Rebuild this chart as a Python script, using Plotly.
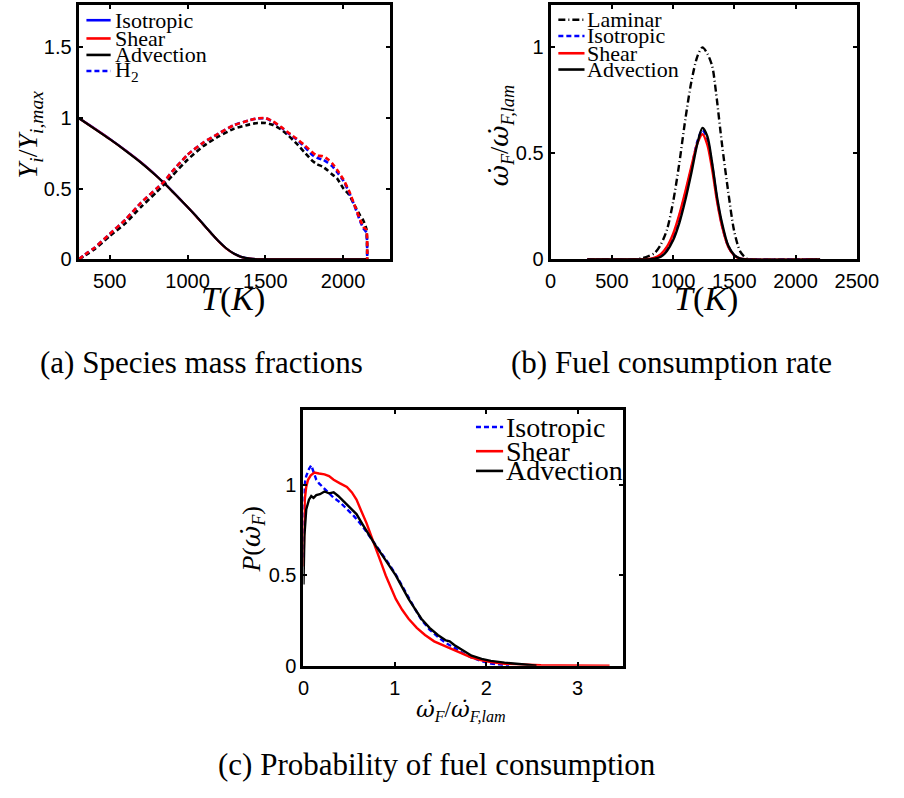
import plotly.graph_objects as go

W, H = 904, 798

# ---------------- (a) species mass fractions vs temperature ----------------
T_fuel = [300, 400, 500, 600, 700, 800, 850, 900, 950, 1000, 1050, 1100, 1150,
          1200, 1250, 1300, 1350, 1400, 1450, 1500, 1800, 2160]
fuel_iso = [1.0, 0.928, 0.853, 0.773, 0.688, 0.592, 0.54, 0.485, 0.428, 0.371, 0.312,
            0.25, 0.188, 0.128, 0.077, 0.04, 0.016, 0.005, 0.001, 0.0, 0.0, 0.0]
fuel_shear = [1.0, 0.926, 0.851, 0.771, 0.686, 0.59, 0.538, 0.483, 0.427, 0.37, 0.311,
              0.249, 0.187, 0.127, 0.076, 0.039, 0.015, 0.005, 0.001, 0.0, 0.0, 0.0]
fuel_adv = [1.0, 0.925, 0.85, 0.77, 0.685, 0.59, 0.538, 0.483, 0.427, 0.37, 0.312,
            0.25, 0.188, 0.128, 0.077, 0.04, 0.016, 0.005, 0.001, 0.0, 0.0, 0.0]

T_h2 = [300, 360, 400, 500, 600, 700, 800, 850, 900, 1000, 1100, 1200, 1300, 1400,
        1450, 1500, 1550, 1600, 1650, 1700, 1750, 1800, 1830, 1870, 1900, 1930, 1960,
        2000, 2040, 2080, 2110, 2130, 2150, 2155]
h2_shear = [0.0, 0.05, 0.08, 0.18, 0.28, 0.40, 0.50, 0.55, 0.62, 0.74, 0.825, 0.89, 0.95,
            0.985, 0.998, 1.0, 0.975, 0.937, 0.895, 0.855, 0.81, 0.76, 0.735, 0.73, 0.71,
            0.68, 0.635, 0.57, 0.48, 0.365, 0.28, 0.23, 0.21, 0.0]
h2_iso = [0.0, 0.05, 0.08, 0.18, 0.28, 0.40, 0.50, 0.55, 0.62, 0.74, 0.825, 0.89, 0.95,
          0.985, 0.997, 0.998, 0.973, 0.935, 0.89, 0.85, 0.80, 0.74, 0.72, 0.705, 0.685,
          0.66, 0.62, 0.56, 0.47, 0.36, 0.27, 0.22, 0.19, 0.0]
h2_adv = [0.0, 0.04, 0.07, 0.165, 0.255, 0.37, 0.475, 0.53, 0.59, 0.705, 0.80, 0.87, 0.925,
          0.955, 0.965, 0.965, 0.95, 0.92, 0.875, 0.82, 0.76, 0.70, 0.675, 0.655, 0.63,
          0.60, 0.575, 0.505, 0.455, 0.37, 0.31, 0.275, 0.215, 0.0]

# ---------------- (b) fuel consumption rate vs temperature ----------------
T_lam = [300, 600, 700, 750, 800, 850, 900, 950, 1000, 1050, 1100, 1150, 1200, 1240,
         1280, 1320, 1350, 1400, 1450, 1500, 1550, 1600, 1650, 2200]
w_lam = [0.0, 0.0, 0.002, 0.006, 0.015, 0.03, 0.07, 0.14, 0.27, 0.45, 0.66, 0.84, 0.96,
         1.0, 0.97, 0.91, 0.79, 0.54, 0.32, 0.13, 0.035, 0.005, 0.0, 0.0]
T_turb = [300, 700, 800, 850, 900, 950, 1000, 1050, 1100, 1150, 1200, 1240, 1280, 1320,
          1360, 1400, 1450, 1500, 1550, 1600, 2200]
w_iso = [0.0, 0.0, 0.001, 0.006, 0.02, 0.055, 0.11, 0.20, 0.31, 0.43, 0.56, 0.61, 0.565,
         0.44, 0.28, 0.16, 0.062, 0.019, 0.003, 0.0, 0.0]
w_shear = [0.0, 0.0, 0.002, 0.008, 0.025, 0.06, 0.12, 0.21, 0.32, 0.44, 0.55, 0.59, 0.54,
           0.42, 0.27, 0.155, 0.06, 0.018, 0.003, 0.0, 0.0]
w_adv = [0.0, 0.0, 0.0, 0.003, 0.012, 0.04, 0.09, 0.17, 0.28, 0.41, 0.55, 0.62, 0.58,
         0.45, 0.29, 0.17, 0.065, 0.02, 0.004, 0.0, 0.0]

# ---------------- (c) PDF of normalised fuel consumption ----------------
x_shear = [0, 0.005, 0.014, 0.03, 0.05, 0.08, 0.12, 0.17, 0.23, 0.28, 0.33, 0.40, 0.475,
           0.53, 0.58, 0.63, 0.69, 0.74, 0.795, 0.85, 0.90, 0.95, 1.01, 1.08, 1.15, 1.24,
           1.33, 1.43, 1.54, 1.65, 1.75, 1.84, 1.95, 2.05, 2.2, 2.4, 2.6, 2.8, 3.0, 3.2, 3.35]
p_shear = [0.55, 0.75, 0.92, 0.99, 1.03, 1.055, 1.07, 1.065, 1.06, 1.05, 1.03, 1.01, 0.99,
           0.96, 0.92, 0.86, 0.79, 0.72, 0.65, 0.57, 0.50, 0.44, 0.37, 0.31, 0.26, 0.21,
           0.17, 0.135, 0.11, 0.085, 0.064, 0.045, 0.03, 0.02, 0.011, 0.006, 0.003, 0.002,
           0.001, 0.0005, 0.0]
x_adv = [0, 0.01, 0.03, 0.06, 0.085, 0.11, 0.14, 0.18, 0.23, 0.28, 0.33, 0.38, 0.44, 0.51,
         0.58, 0.65, 0.72, 0.79, 0.865, 0.94, 1.01, 1.08, 1.15, 1.22, 1.29, 1.38, 1.47,
         1.56, 1.60, 1.65, 1.74, 1.84, 1.95, 2.05, 2.2, 2.34, 2.45, 2.55]
p_adv = [0.45, 0.72, 0.865, 0.92, 0.94, 0.93, 0.945, 0.95, 0.965, 0.955, 0.96, 0.94, 0.91,
         0.875, 0.84, 0.78, 0.72, 0.665, 0.61, 0.555, 0.50, 0.435, 0.37, 0.315, 0.26, 0.21,
         0.17, 0.14, 0.135, 0.115, 0.085, 0.055, 0.038, 0.027, 0.017, 0.012, 0.005, 0.0]
x_iso = [0, 0.01, 0.03, 0.06, 0.085, 0.11, 0.14, 0.17, 0.21, 0.245, 0.29, 0.33, 0.40,
         0.475, 0.55, 0.65, 0.72, 0.79, 0.865, 0.94, 1.01, 1.08, 1.15, 1.22, 1.29, 1.38,
         1.47, 1.56, 1.65, 1.74, 1.84, 1.95, 2.05, 2.15, 2.25]
p_iso = [0.6, 1.0, 1.05, 1.09, 1.11, 1.07, 1.03, 1.01, 0.99, 0.975, 0.95, 0.93, 0.905,
         0.87, 0.83, 0.77, 0.72, 0.67, 0.615, 0.56, 0.505, 0.44, 0.375, 0.315, 0.255, 0.2,
         0.16, 0.125, 0.1, 0.07, 0.045, 0.025, 0.012, 0.004, 0.0]

BLUE, RED, BLACK = "#0000ff", "#ff0000", "#000000"
DASH = "5px,3px"
DASHDOT = "7px,3px,1px,3px"

fig = go.Figure()


def line(x, y, color, xa, ya, dash="solid", width=2.2, shape="linear", smooth=0.8):
    fig.add_trace(go.Scatter(x=x, y=y, mode="lines", xaxis=xa, yaxis=ya,
                             line=dict(color=color, width=width, dash=dash, shape=shape,
                                       smoothing=smooth),
                             showlegend=False, hoverinfo="skip"))


# panel (a)
line(T_fuel, fuel_iso, BLUE, "x", "y", shape="spline")
line(T_fuel, fuel_shear, RED, "x", "y", shape="spline")
line(T_fuel, fuel_adv, BLACK, "x", "y", shape="spline")
line(T_h2, h2_adv, BLACK, "x", "y", dash=DASH, width=2.6, shape="spline", smooth=0.5)
line(T_h2, h2_iso, BLUE, "x", "y", dash=DASH, width=2.6, shape="spline", smooth=0.5)
line(T_h2, h2_shear, RED, "x", "y", dash=DASH, width=2.6, shape="spline", smooth=0.5)

# panel (b)
line(T_lam, w_lam, BLACK, "x2", "y2", dash=DASHDOT, width=2.4, shape="spline")
line(T_turb, w_iso, BLUE, "x2", "y2", dash=DASH, width=2.4, shape="spline")
line(T_turb, w_shear, RED, "x2", "y2", width=2.4, shape="spline")
line(T_turb, w_adv, BLACK, "x2", "y2", width=2.4, shape="spline")

# panel (c)
line(x_iso, p_iso, BLUE, "x3", "y3", dash=DASH, width=2.4)
line(x_shear, p_shear, RED, "x3", "y3", width=2.4)
line(x_adv, p_adv, BLACK, "x3", "y3", width=2.4)


def px(v):
    return v / W


def py(v):
    return 1 - v / H


axis_style = dict(showline=True, linecolor="black", linewidth=3, mirror="ticks",
                  ticks="inside", ticklen=4, tickwidth=1.5, tickcolor="black",
                  showgrid=False, zeroline=False,
                  tickfont=dict(family="Liberation Sans", size=20, color="black"))
x_style = dict(axis_style, ticklabelstandoff=2)

fig.update_layout(
    width=W, height=H, margin=dict(l=0, r=0, t=0, b=0),
    paper_bgcolor="white", plot_bgcolor="white", showlegend=False,
    xaxis=dict(domain=[px(75), px(396)], range=[300, 2300], tickvals=[500, 1000, 1500, 2000],
               anchor="y", **x_style),
    yaxis=dict(domain=[py(263), py(5)], range=[0, 1.8], tickvals=[0, 0.5, 1, 1.5],
               ticktext=["0", "0.5", "1", "1.5"], anchor="x", **axis_style),
    xaxis2=dict(domain=[px(562), px(878)], range=[0, 2500],
                tickvals=[0, 500, 1000, 1500, 2000, 2500], anchor="y2", **x_style),
    yaxis2=dict(domain=[py(263), py(5)], range=[0, 1.2], tickvals=[0, 0.5, 1],
                ticktext=["0", "0.5", "1"], anchor="x2", **axis_style),
    xaxis3=dict(domain=[px(307), px(637)], range=[0, 3.5], tickvals=[0, 1, 2, 3],
                anchor="y3", **x_style),
    yaxis3=dict(domain=[py(675), py(416)], range=[0, 1.415], tickvals=[0, 0.5, 1],
                ticktext=["0", "0.5", "1"], anchor="x3", **axis_style),
)

SERIF = "Liberation Serif"
# omega with a combining dot, set in a font that positions the mark
OMEGA_DOT = '<span style="font-family:\'DejaVu Serif\'">ω̇</span>'


def text(x, y, s, size, xanchor="center", angle=0):
    fig.add_annotation(x=px(x), y=py(y), xref="paper", yref="paper", text=s,
                       showarrow=False, xanchor=xanchor, yanchor="middle",
                       textangle=angle,
                       font=dict(family=SERIF, size=size, color="black"))


def key(x0, x1, y, color, dash="solid", width=2.6):
    fig.add_shape(type="line", xref="paper", yref="paper", x0=px(x0), x1=px(x1),
                  y0=py(y), y1=py(y), line=dict(color=color, width=width, dash=dash))


# legend of (a)
for yy, lab, col, dsh in [(20.5, "Isotropic", BLUE, "solid"), (39, "Shear", RED, "solid"),
                          (55.7, "Advection", BLACK, "solid"),
                          (72, "H<sub>2</sub>", BLUE, DASH)]:
    key(83, 108, yy, col, dsh)
    text(110, yy, lab, 22, xanchor="left")

# legend of (b)
for yy, lab, col, dsh in [(20, "Laminar", BLACK, DASHDOT), (36.5, "Isotropic", BLUE, DASH),
                          (54, "Shear", RED, "solid"), (70.5, "Advection", BLACK, "solid")]:
    key(570, 597, yy, col, dsh)
    text(598, yy, lab, 22, xanchor="left")

# legend of (c)
for yy, lab, col, dsh in [(433, "Isotropic", BLUE, DASH), (457.5, "Shear", RED, "solid"),
                          (477.5, "Advection", BLACK, "solid")]:
    key(485, 513, yy, col, dsh)
    text(514, yy, lab, 28, xanchor="left")

W_RATIO = f"<i>{OMEGA_DOT}<sub>F</sub></i>/<i>{OMEGA_DOT}<sub>F,lam</sub></i>"

# axis titles
text(234, 303, "<i>T</i>(<i>K</i>)", 34)
text(722, 303, "<i>T</i>(<i>K</i>)", 34)
text(24, 136, "<i>Y<sub>i</sub></i>/<i>Y<sub>i,max</sub></i>", 28, angle=-90)
text(510, 138, W_RATIO, 26, angle=-90)
text(254, 547, f"<i>P</i>(<i>{OMEGA_DOT}<sub>F</sub></i>)", 26, angle=-90)
text(470, 720, W_RATIO, 23)

# sub-figure captions
text(202, 368, "(a) Species mass fractions", 31)
text(687, 368, "(b) Fuel consumption rate", 31)
text(445, 775, "(c) Probability of fuel consumption", 31)

fig.write_html("out.html")
